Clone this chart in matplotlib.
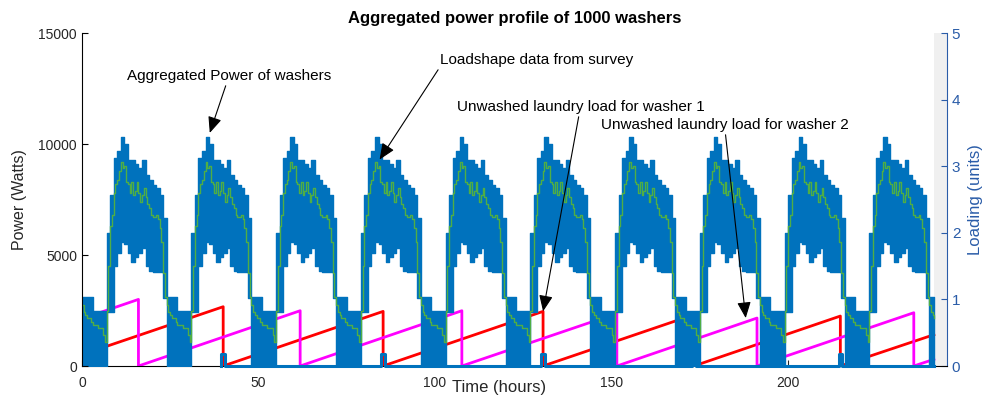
import numpy as np
import matplotlib
matplotlib.use("Agg")
import matplotlib.pyplot as plt

plt.rcParams['font.family'] = ['Liberation Sans', 'DejaVu Sans']

# hourly envelope of the aggregated washer power over one day (W)
upper_w = [3100, 3100, 3100, 2500, 2500, 2500, 2500, 6000, 7700, 9350, 9700, 10300,
           10000, 9300, 9300, 9100, 8900, 9300, 8600, 8400, 8150, 8000, 7700, 6650]
lower_w = [0, 0, 0, 0, 0, 0, 0, 2450, 2450, 4500, 5100, 5600,
           5500, 5100, 4700, 4900, 5100, 5300, 4500, 4300, 4250, 4250, 4250, 3050]

# survey loadshape, half-hour steps (W)
loadshape_w = [2750, 2450, 2300, 2150, 2150, 2000, 1850, 1850, 1850, 1700, 1700, 1700,
               1400, 1100, 2500, 4500, 6300, 6800, 7800, 8200, 8400, 8800, 9200, 8900,
               9000, 8300, 8200, 7800, 8300, 7700, 7900, 8300, 7800, 7400, 7700, 8000,
               7600, 7300, 7100, 6800, 6700, 6700, 6800, 6600, 6200, 5600, 4200, 3100]

n_days = 10
t_end = 241.3

# unwashed laundry load (units), sawtooth corners
washer1_t = [0, 40, 40, 85.3, 85.3, 130.6, 130.6, 173.3, 173.3, 214.8, 214.8, 241.3]
washer1_v = [0.17, 0.89, 0, 0.82, 0, 0.82, 0, 0.77, 0, 0.75, 0, 0.47]
washer2_t = [0, 16, 16, 61.8, 61.8, 107.6, 107.6, 151.5, 151.5, 191.2, 191.2, 235.6, 235.6, 241.3]
washer2_v = [0.71, 1.0, 0, 0.83, 0, 0.83, 0, 0.79, 0, 0.72, 0, 0.80, 0, 0.10]

# washer 1 running state (units)
wash_starts = [39.5, 84.8, 130.1, 172.8, 214.3]
wash_level = 0.18
wash_len = 1.0

hours = np.append(np.arange(0, 24 * n_days + 2), t_end)
hours = hours[hours <= t_end]
upper = np.tile(upper_w, n_days + 1)[:len(hours)]
lower = np.tile(lower_w, n_days + 1)[:len(hours)]

half_hours = np.append(np.arange(0, 24 * n_days + 1.5, 0.5), t_end)
half_hours = half_hours[half_hours <= t_end]
loadshape = np.tile(loadshape_w, n_days + 1)[:len(half_hours)]

run_t = [wash_starts[0]]
run_v = [0]
for s in wash_starts:
    run_t += [s, s, s + wash_len, s + wash_len]
    run_v += [0, wash_level, wash_level, 0]
run_t.append(t_end)
run_v.append(0)

fig = plt.figure(figsize=(9.85, 4.03), dpi=100)
ax2 = fig.add_axes([0.0832, 0.0918, 0.8782, 0.8263])
ax = ax2.twinx()
ax.set_zorder(ax2.get_zorder() + 1)
ax.patch.set_visible(False)

blue = '#0072BD'
right_col = '#2a5ca8'
txt_col = '#262626'

# right axis: laundry loads
ax2.axvspan(t_end, 245, color='#f0f0f0', lw=0)
ax2.plot(washer1_t, washer1_v, color='#ff0000', lw=2)
ax2.plot(washer2_t, washer2_v, color='#ff00ff', lw=2)
ax2.plot(run_t, run_v, color=blue, lw=2.2, clip_on=False, zorder=4)
ax2.set_ylim(0, 5)
ax2.set_xlim(0, 245)
ax2.yaxis.tick_right()
ax2.yaxis.set_label_position('right')
ax2.set_yticks(range(6))
ax2.tick_params(axis='y', colors=right_col, labelsize=11, direction='in', length=4)
ax2.tick_params(axis='x', colors=txt_col, labelsize=10, direction='in', length=4, pad=7)
ax2.set_xticks([0, 50, 100, 150, 200])
ax2.set_ylabel('Loading (units)', color=right_col, fontsize=12)
ax2.yaxis.set_label_coords(1.024, 0.5)
ax2.set_xlabel('Time (hours)', color=txt_col, fontsize=12)
ax2.xaxis.set_label_coords(0.482, -0.042)
for s in ['top', 'left']:
    ax2.spines[s].set_visible(False)
ax2.spines['right'].set_color(right_col)
ax2.spines['bottom'].set_color('black')

# left axis: aggregated power and loadshape
ax.fill_between(hours, lower, upper, step='post', facecolor=blue, edgecolor=blue, lw=1)
ax.step(half_hours, loadshape, where='post', color='#4fae45', lw=1)
ax.set_ylim(0, 15000)
ax.set_xlim(0, 245)
ax.yaxis.tick_left()
ax.yaxis.set_label_position('left')
ax.set_yticks([0, 5000, 10000, 15000])
ax.tick_params(axis='y', colors=txt_col, labelsize=10, direction='in', length=4)
ax.tick_params(axis='y', color='black')
ax.set_ylabel('Power (Watts)', color=txt_col, fontsize=11.5)
ax.yaxis.set_label_coords(-0.063, 0.5)
for s in ['top', 'right', 'bottom']:
    ax.spines[s].set_visible(False)

ax.set_title('Aggregated power profile of 1000 washers', fontsize=12, fontweight='bold', pad=7)

arrow = dict(arrowstyle='-|>,head_length=0.7,head_width=0.3', color='black', lw=0.8,
             shrinkA=0, shrinkB=0, mutation_scale=14)
ax.annotate('Aggregated Power of washers', xy=(36.2, 10500), xycoords='data',
            xytext=(0.2325, 0.8114), textcoords='figure fraction',
            ha='center', va='center', fontsize=11, arrowprops=arrow)
ax.annotate('Loadshape data from survey', xy=(84.3, 9300), xycoords='data',
            xytext=(0.5447, 0.8511), textcoords='figure fraction',
            ha='center', va='center', fontsize=11,
            arrowprops=dict(arrow, relpos=(0.0, 0.0)))
ax.annotate('Unwashed laundry load for washer 1', xy=(130.6, 0.82), xycoords=ax2.transData,
            xytext=(0.5893, 0.7345), textcoords='figure fraction',
            ha='center', va='center', fontsize=11, arrowprops=arrow)
ax.annotate('Unwashed laundry load for washer 2', xy=(188, 0.72), xycoords=ax2.transData,
            xytext=(0.7355, 0.6898), textcoords='figure fraction',
            ha='center', va='center', fontsize=11, arrowprops=arrow)

fig.savefig('out.png', dpi=100)
